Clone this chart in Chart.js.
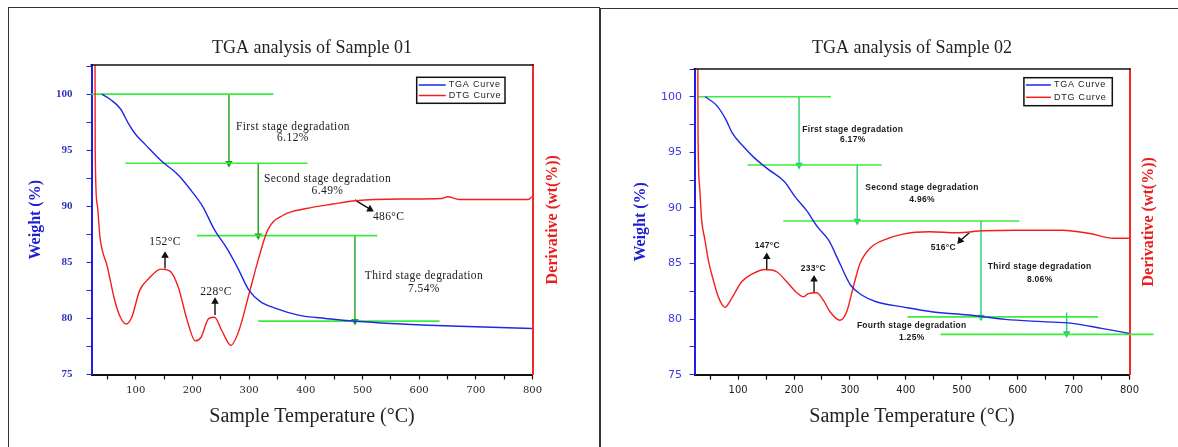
<!DOCTYPE html>
<html>
<head>
<meta charset="utf-8">
<script src="https://cdn.jsdelivr.net/npm/chart.js@4.4.1/dist/chart.umd.min.js"></script>
<style>
  html, body { margin: 0; padding: 0; background: #fff; }
  body { width: 1178px; height: 447px; position: relative; overflow: hidden; }
  .frame { position: absolute; border: 1.5px solid #333; border-bottom: none; }
  canvas { position: absolute; top: 0; }
</style>
</head>
<body>
<div class="frame" style="left:8px;top:7px;width:590px;height:460px"></div>
<div class="frame" style="left:600px;top:8px;width:600px;height:460px"></div>
<canvas id="c1" width="600" height="447" style="left:0"></canvas>
<canvas id="c2" width="578" height="447" style="left:600px"></canvas>
<script>
// axes
const tempMin = 22, tempMax = 800;
const xTicks = [50, 100, 150, 200, 250, 300, 350, 400, 450, 500, 550, 600, 650, 700, 750, 800];
const yTicks = [75, 77.5, 80, 82.5, 85, 87.5, 90, 92.5, 95, 97.5, 100, 102.5];

// ---- Sample 01 ----
const s1TgaT = [40, 56, 73, 87, 100, 117, 144, 175, 198, 218, 239, 259, 279, 300, 320, 347, 387, 434, 502, 569, 671, 799];
const s1TgaW = [100, 99.5, 98.7, 97.4, 96.4, 95.5, 94.1, 92.8, 91.4, 90, 87.9, 86.4, 84.6, 82.5, 81.5, 80.9, 80.3, 80.0, 79.7, 79.5, 79.3, 79.1];
const s1DtgT = [28, 28.5, 32, 37, 50, 63, 73, 83, 93, 107, 124, 144, 161, 175, 191, 205, 215, 229, 239, 252, 268, 282, 300, 316, 333, 360, 401, 448, 488, 569, 640, 650, 671, 792, 799];
const s1DtgV = [112, 95, 90.2, 87.2, 84.6, 81.6, 80.1, 79.5, 80.1, 82.5, 83.6, 84.4, 84.2, 82.8, 79.8, 78.0, 78.3, 80.0, 80.1, 78.9, 77.6, 78.9, 82.2, 85.2, 87.9, 89.2, 89.8, 90.2, 90.5, 90.65, 90.7, 90.85, 90.6, 90.6, 90.85];
const s1StageW = [100, 93.84, 87.38, 79.76];
const s1StageFrom = [22, 82, 208, 316];
const s1StageTo = [343, 403, 526, 636];
const s1ArrowT = [264.5, 316.2, 486.8];
const s1ArrowTop = [100, 93.84, 87.38];
const s1ArrowEnd = [93.84, 87.38, 79.76];
const s1StageText = ['First stage degradation', 'Second stage degradation', 'Third stage degradation'];
const s1StageLoss = ['6.12%', '6.49%', '7.54%'];
const s1PeakText = ['152°C', '228°C', '486°C'];
const s1PeakFromT = [151.7, 239.9, 486.8];
const s1PeakFromV = [84.45, 80.3, 90.57];
const s1PeakToT = [151.7, 239.9, 513.3];
const s1PeakToV = [85.6, 81.5, 89.74];

// ---- Sample 02 ----
const s2TgaT = [41, 61, 77, 90, 107, 130, 156, 183, 202, 222, 242, 262, 282, 301, 321, 347, 394, 446, 512, 578, 644, 697, 750, 799];
const s2TgaW = [100, 99.25, 98.06, 96.7, 95.66, 94.46, 93.4, 92.36, 91.0, 89.8, 88.3, 87.1, 85.0, 83.07, 82.17, 81.56, 81.1, 80.66, 80.37, 79.98, 79.77, 79.62, 79.17, 78.72];
const s2DtgT = [27.5, 28.3, 31, 34.8, 40.8, 46.7, 55.7, 64.6, 76.6, 88.5, 106.4, 127.2, 148, 169, 187, 205, 216.6, 225.5, 240.6, 252.4, 264.4, 282.2, 294.2, 306, 318, 336, 360, 395, 443, 491, 538, 600, 680, 729, 771, 799];
const s2DtgV = [112, 96.8, 92, 88.9, 87.1, 85.3, 83.5, 82.0, 81.06, 81.87, 83.36, 84.12, 84.47, 84.26, 83.36, 82.37, 82.0, 82.3, 82.37, 81.7, 80.66, 79.9, 80.66, 82.9, 85.0, 86.37, 87.1, 87.65, 87.86, 87.77, 87.95, 88.0, 88.0, 87.7, 87.27, 87.27];
const s2StageW = [100, 93.86, 88.82, 80.2, 78.63];
const s2StageFrom = [29, 117, 181, 403, 462];
const s2StageTo = [266, 357, 603, 744, 843];
const s2ArrowT = [209, 313, 534.4, 687.6];
const s2ArrowTop = [100, 93.86, 88.82, 80.6];
const s2ArrowEnd = [93.86, 88.82, 80.2, 78.7];
const s2StageText = ['First stage degradation', 'Second stage degradation', 'Third stage degradation', 'Fourth stage degradation'];
const s2StageLoss = ['6.17%', '4.96%', '8.06%', '1.25%'];
const s2PeakText = ['147°C', '233°C', '516°C'];
const s2PeakFromT = [151.2, 235.8, 513.5];
const s2PeakFromV = [84.4, 82.37, 87.77];
const s2PeakToT = [151.2, 235.8, 497];
const s2PeakToV = [85.6, 83.58, 87.05];

function pts(xs, ys) { return xs.map((v, i) => ({ x: v, y: ys[i] })); }

// draws top frame line, notes, legend box and right-hand axis title
const decor = {
  id: 'decor',
  afterDraw(chart, args, o) {
    const { ctx, chartArea: a } = chart;
    const x = chart.scales.x, y = chart.scales.y;
    ctx.save();
    ctx.strokeStyle = '#111';
    ctx.lineWidth = 1.5;
    ctx.beginPath(); ctx.moveTo(a.left - 1, a.top); ctx.lineTo(a.right + 1, a.top); ctx.stroke();

    ctx.textAlign = 'center';
    ctx.textBaseline = 'middle';
    ctx.fillStyle = o.noteColor;
    ctx.font = o.noteFont;
    ctx.letterSpacing = o.noteSpacing;
    o.notes.forEach(n => ctx.fillText(n.text, x.getPixelForValue(n.x), y.getPixelForValue(n.y)));

    // legend
    const L = o.legend;
    const bx = a.right - L.right - L.width, by = a.top + L.top;
    ctx.fillStyle = '#fff'; ctx.fillRect(bx, by, L.width, L.height);
    ctx.strokeStyle = '#111'; ctx.lineWidth = 1.5; ctx.strokeRect(bx, by, L.width, L.height);
    ctx.font = L.font; ctx.letterSpacing = L.spacing; ctx.textAlign = 'left';
    chart.data.datasets.filter(d => d.label).forEach((d, i) => {
      const ly = by + L.rowTop + i * L.rowGap;
      ctx.strokeStyle = d.borderColor; ctx.lineWidth = 1.5;
      ctx.beginPath(); ctx.moveTo(bx + 2, ly); ctx.lineTo(bx + 2 + L.lineLen, ly); ctx.stroke();
      ctx.fillStyle = '#222';
      ctx.fillText(d.label, bx + L.lineLen + 5, ly);
    });
    ctx.letterSpacing = '0px';

    // right axis title (reads bottom to top)
    const R = o.rightTitle;
    ctx.translate(a.right + R.offset, (a.top + a.bottom) / 2);
    ctx.rotate(-Math.PI / 2);
    ctx.textAlign = 'center';
    ctx.font = R.font;
    ctx.fillStyle = R.color;
    ctx.fillText(R.text, 0, 0);
    ctx.restore();
  }
};

function makeChart(id, d, g) {
  const green = 'rgb(60,235,60)';
  const datasets = [
    { label: 'TGA Curve', data: pts(d.tgaT, d.tgaW), borderColor: 'rgb(30,40,230)', borderWidth: 1.4, yAxisID: 'y' },
    { label: 'DTG Curve', data: pts(d.dtgT, d.dtgV), borderColor: 'rgb(245,30,30)', borderWidth: 1.4, yAxisID: 'y2' }
  ];
  d.stageW.forEach((w, i) => {
    datasets.push({ data: [{ x: d.stageFrom[i], y: w }, { x: d.stageTo[i], y: w }],
      borderColor: green, borderWidth: 1.6, yAxisID: 'y', clip: false });
  });
  d.arrowT.forEach((t, i) => {
    datasets.push({ data: [{ x: t, y: d.arrowTop[i] }, { x: t, y: d.arrowEnd[i] }],
      borderColor: g.arrowColor, backgroundColor: g.arrowColor, borderWidth: 1.4, yAxisID: 'y',
      pointRadius: [0, 3], pointStyle: 'triangle', pointRotation: 180 });
  });
  d.peakText.forEach((t, i) => {
    datasets.push({ data: [{ x: d.peakFromT[i], y: d.peakFromV[i] }, { x: d.peakToT[i], y: d.peakToV[i] }],
      borderColor: '#111', backgroundColor: '#111', borderWidth: 1.4, yAxisID: 'y',
      pointRadius: [0, 3], pointStyle: 'triangle', pointRotation: g.peakRot[i] });
  });

  const notes = [];
  d.stageText.forEach((t, i) => {
    notes.push({ text: t, x: g.stagePos[i][0], y: g.stagePos[i][1] });
    notes.push({ text: d.stageLoss[i], x: g.stagePos[i][0], y: g.stagePos[i][2] });
  });
  d.peakText.forEach((t, i) => notes.push({ text: t, x: g.peakPos[i][0], y: g.peakPos[i][1] }));

  return new Chart(document.getElementById(id), {
    type: 'line',
    data: { datasets },
    plugins: [decor],
    options: {
      responsive: false,
      animation: false,
      layout: { padding: 0 },
      elements: {
        point: { radius: 0, hoverRadius: 0 },
        line: { cubicInterpolationMode: 'monotone', fill: false }
      },
      plugins: {
        legend: { display: false },
        tooltip: { enabled: false },
        title: {
          display: true, text: g.title, fullSize: false, color: '#222',
          font: { family: 'Liberation Serif', size: 18, weight: 'normal' },
          padding: { top: 37.2, bottom: g.titleBottom }
        },
        decor: {
          notes, noteColor: '#1a1a1a', noteFont: g.noteFont, noteSpacing: g.noteSpacing,
          legend: g.legend,
          rightTitle: { text: 'Derivative (wt(%))', offset: g.rightTitleOffset, color: 'rgb(235,30,30)',
            font: 'bold 16px "Liberation Serif"' }
        }
      },
      scales: {
        x: {
          type: 'linear', min: tempMin, max: tempMax,
          afterBuildTicks: s => { s.ticks = xTicks.map(v => ({ value: v })); },
          afterFit: s => { s.height = g.xHeight; },
          ticks: { autoSkip: false, maxRotation: 0, padding: 5, color: '#222',
            font: g.xTickFont, callback: v => (v % 100 === 0 ? v : '') },
          grid: { drawOnChartArea: false, tickLength: 5, color: '#111', tickWidth: 1.2 },
          border: { color: '#111', width: 2 },
          title: { display: true, text: 'Sample Temperature (°C)', color: '#222',
            font: { family: 'Liberation Serif', size: 20 }, padding: { top: 0, bottom: 18 } }
        },
        y: {
          position: 'left', min: 75, max: g.yMax,
          afterBuildTicks: s => { s.ticks = yTicks.map(v => ({ value: v })); },
          afterFit: s => { s.width = g.yWidth; },
          ticks: { autoSkip: false, padding: g.yTickPad, color: g.yTickColor,
            font: g.yTickFont, callback: v => (v % 5 === 0 ? v : '') },
          grid: { drawOnChartArea: false, tickLength: 5, color: 'rgb(40,40,220)' },
          border: { color: 'rgb(30,30,230)', width: 2 },
          title: { display: true, text: 'Weight (%)', color: 'rgb(30,30,210)',
            font: { family: 'Liberation Serif', size: 16, weight: 'bold' }, padding: { top: g.yTitlePad, bottom: 0 } }
        },
        y2: {
          position: 'right', min: 75, max: g.yMax,
          afterFit: s => { s.width = g.y2Width; },
          ticks: { display: false },
          grid: { drawOnChartArea: false, drawTicks: false },
          border: { color: 'rgb(245,40,40)', width: 2 }
        }
      }
    }
  });
}

makeChart('c1', {
  tgaT: s1TgaT, tgaW: s1TgaW, dtgT: s1DtgT, dtgV: s1DtgV,
  stageW: s1StageW, stageFrom: s1StageFrom, stageTo: s1StageTo,
  arrowT: s1ArrowT, arrowTop: s1ArrowTop, arrowEnd: s1ArrowEnd,
  stageText: s1StageText, stageLoss: s1StageLoss,
  peakText: s1PeakText, peakFromT: s1PeakFromT, peakFromV: s1PeakFromV, peakToT: s1PeakToT, peakToV: s1PeakToV
}, {
  title: 'TGA analysis of Sample 01', titleBottom: 6.2,
  yMax: 102.6, yWidth: 91.5, y2Width: 67.5, xHeight: 72.5,
  yTickPad: 14, yTickColor: 'rgb(50,50,190)',
  yTickFont: { family: 'Liberation Serif', size: 11, weight: 'bold' },
  xTickFont: { family: 'DejaVu Serif', size: 10 },
  yTitlePad: 26.4, rightTitleOffset: 20.5,
  arrowColor: 'rgb(30,160,30)',
  noteFont: '11.5px "Liberation Serif"', noteSpacing: '0.4px',
  stagePos: [[377.4, 97.1, 96.07], [438.3, 92.44, 91.4], [608.5, 83.79, 82.6]],
  peakPos: [[151.7, 86.82], [241.6, 82.4], [546.2, 89.03]],
  peakRot: [0, 0, 120],
  legend: { right: 27.5, top: 12.3, width: 88.3, height: 26, rowTop: 7.7, rowGap: 10.5, lineLen: 27,
    font: '9px "Liberation Sans"', spacing: '0.8px' }
});

makeChart('c2', {
  tgaT: s2TgaT, tgaW: s2TgaW, dtgT: s2DtgT, dtgV: s2DtgV,
  stageW: s2StageW, stageFrom: s2StageFrom, stageTo: s2StageTo,
  arrowT: s2ArrowT, arrowTop: s2ArrowTop, arrowEnd: s2ArrowEnd,
  stageText: s2StageText, stageLoss: s2StageLoss,
  peakText: s2PeakText, peakFromT: s2PeakFromT, peakFromV: s2PeakFromV, peakToT: s2PeakToT, peakToV: s2PeakToV
}, {
  title: 'TGA analysis of Sample 02', titleBottom: 10.2,
  yMax: 102.5, yWidth: 94.5, y2Width: 48.5, xHeight: 72.3,
  yTickPad: 7.5, yTickColor: 'rgb(60,60,230)',
  yTickFont: { family: 'DejaVu Sans', size: 11 },
  xTickFont: { family: 'DejaVu Sans', size: 10 },
  yTitlePad: 30.9, rightTitleOffset: 19.5,
  arrowColor: 'rgb(40,205,120)',
  noteFont: 'bold 8.5px "Liberation Sans"', noteSpacing: '0.3px',
  stagePos: [[305, 97.07, 96.11], [428.9, 91.82, 90.77], [639.4, 84.71, 83.58], [410.5, 79.38, 78.36]],
  peakPos: [[152.2, 86.57], [234.5, 84.57], [467, 86.46]],
  peakRot: [0, 0, 220],
  legend: { right: 17.2, top: 8.7, width: 88.4, height: 28, rowTop: 7.3, rowGap: 12.3, lineLen: 25,
    font: '9px "Liberation Sans"', spacing: '0.8px' }
});
</script>
</body>
</html>
